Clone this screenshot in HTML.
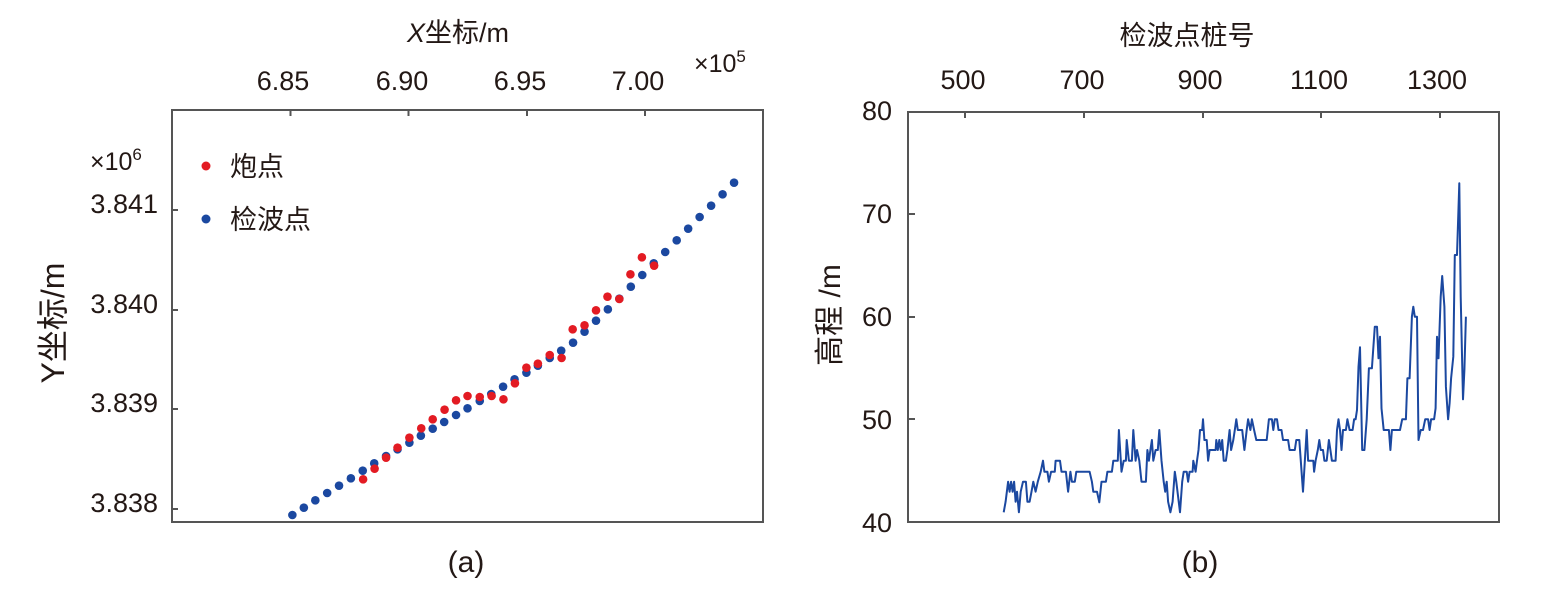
<!DOCTYPE html>
<html><head><meta charset="utf-8"><style>
html,body{margin:0;padding:0;background:#fff;}
svg{display:block;font-family:"Liberation Sans","Noto Sans CJK SC",sans-serif;}
</style></head><body>
<svg id="s" width="1546" height="594" viewBox="0 0 1546 594" xmlns="http://www.w3.org/2000/svg">
<g fill="#231815" font-size="27">
<!-- panel a -->
<rect x="172" y="110" width="591" height="412" fill="none" stroke="#555" stroke-width="2"/>
<g stroke="#555" stroke-width="2">
<line x1="290.5" y1="110" x2="290.5" y2="116"/><line x1="408.5" y1="110" x2="408.5" y2="116"/>
<line x1="527" y1="110" x2="527" y2="116"/><line x1="645" y1="110" x2="645" y2="116"/>
<line x1="172" y1="210" x2="178" y2="210"/><line x1="172" y1="310" x2="178" y2="310"/>
<line x1="172" y1="409" x2="178" y2="409"/><line x1="172" y1="509" x2="178" y2="509"/>
</g>
<g text-anchor="middle">
<text x="283" y="90">6.85</text><text x="402" y="90">6.90</text>
<text x="520" y="90">6.95</text><text x="638" y="90">7.00</text>
</g>
<text x="694" y="72" font-size="25">×10<tspan font-size="17" dy="-10">5</tspan></text>
<text x="90" y="170" font-size="25">×10<tspan font-size="17" dy="-10">6</tspan></text>
<g text-anchor="end">
<text x="158" y="213">3.841</text><text x="158" y="313">3.840</text>
<text x="158" y="412">3.839</text><text x="158" y="512">3.838</text>
</g>
<text x="458" y="42" text-anchor="middle"><tspan font-style="italic">X</tspan>坐标/m</text>
<text transform="translate(64,323) rotate(-90)" text-anchor="middle" font-size="32">Y坐标/m</text>
<text x="466" y="572" text-anchor="middle" font-size="30">(a)</text>
<circle cx="206" cy="166" r="4.5" fill="#e31b23"/><text x="230" y="176">炮点</text>
<circle cx="206" cy="219" r="4.5" fill="#1b48a0"/><text x="230" y="229">检波点</text>
<g id="pts"></g>
<!-- panel b -->
<rect x="908" y="112" width="591" height="410" fill="none" stroke="#555" stroke-width="2"/>
<g stroke="#555" stroke-width="2">
<line x1="965" y1="112" x2="965" y2="118"/><line x1="1084" y1="112" x2="1084" y2="118"/>
<line x1="1203" y1="112" x2="1203" y2="118"/><line x1="1321" y1="112" x2="1321" y2="118"/>
<line x1="1440" y1="112" x2="1440" y2="118"/>
<line x1="908" y1="214" x2="915" y2="214"/><line x1="908" y1="317" x2="915" y2="317"/>
<line x1="908" y1="419" x2="915" y2="419"/>
</g>
<g text-anchor="middle">
<text x="963" y="89">500</text><text x="1082" y="89">700</text><text x="1200" y="89">900</text>
<text x="1319" y="89">1100</text><text x="1437" y="89">1300</text>
</g>
<g text-anchor="end">
<text x="892" y="120">80</text><text x="892" y="223">70</text><text x="892" y="326">60</text>
<text x="892" y="429">50</text><text x="892" y="532">40</text>
</g>
<text x="1187" y="45" text-anchor="middle">检波点桩号</text>
<text transform="translate(840,315) rotate(-90)" text-anchor="middle" font-size="30">高程 /m</text>
<text x="1200" y="572" text-anchor="middle" font-size="30">(b)</text>
<polyline id="ln" fill="none" stroke="#1b48a0" stroke-width="2" stroke-linejoin="round"/>
</g>
</svg>
<script>
var blue=[320,1245,350,1223,380,1201,411,1179,442,1157,473,1135,504,1112,534,1090,565,1068,595,1048,626,1028,656,1007,687,986,717,966,748,945,778,925,810,903,840,882,871,860,901,838,932,818,962,797,993,774,1023,752,1054,728,1084,695,1114,662,1145,628,1175,596,1205,560,1235,525,1265,490,1295,456,1325,421,1355,386,1385,351,1415,317,1445,283,1475,248];
var red=[505,1138,535,1106,565,1073,595,1043,626,1013,657,985,687,958,718,929,748,901,778,888,810,891,841,888,872,898,902,850,932,803,962,791,993,765,1024,774,1053,688,1084,676,1114,631,1144,590,1175,597,1204,523,1234,472,1266,497];
var g=document.getElementById('pts'),ns="http://www.w3.org/2000/svg";
function add(a,c){for(var i=0;i<a.length;i+=2){var e=document.createElementNS(ns,'circle');e.setAttribute('cx',170+a[i]/2.615);e.setAttribute('cy',100+a[i+1]/3);e.setAttribute('r',4.3);e.setAttribute('fill',c);g.appendChild(e);}}
add(blue,'#1b48a0');add(red,'#e31b23');
var L=[280,1027,285,995,292,935,296,965,300,935,304,965,308,935,312,995,316,965,321,1027,326,965,332,935,340,935,344,995,350,995,355,965,360,935,366,965,372,935,380,905,386,872,390,905,398,905,402,935,408,905,418,905,420,872,432,872,436,905,448,905,454,965,460,905,464,935,472,935,476,905,512,905,518,935,522,965,532,965,538,997,544,935,556,935,560,905,572,905,576,872,588,872,591,780,598,905,604,872,610,872,612,810,618,872,626,872,630,780,636,872,640,840,646,872,652,935,664,935,668,840,672,872,676,840,680,810,684,872,690,840,696,840,700,780,706,872,712,935,716,965,720,935,724,995,730,1027,736,995,742,905,746,935,756,1027,762,935,766,905,774,905,778,935,782,905,790,905,792,872,798,905,802,872,806,840,810,780,816,780,818,748,822,810,828,810,832,872,836,840,852,840,854,810,858,840,862,810,866,840,870,810,874,872,880,872,884,840,890,780,894,840,900,810,904,780,908,748,912,780,924,780,930,840,936,780,940,748,946,780,950,748,956,780,962,810,990,810,996,748,1004,748,1008,780,1012,748,1018,748,1022,780,1030,780,1034,810,1048,810,1052,840,1066,840,1070,810,1078,810,1088,965,1098,780,1102,872,1116,872,1118,905,1122,872,1128,840,1132,810,1136,840,1142,840,1146,872,1152,872,1158,810,1162,840,1166,872,1176,872,1180,780,1184,748,1188,780,1192,840,1196,780,1204,780,1208,748,1214,780,1222,780,1226,748,1230,748,1234,720,1238,590,1242,532,1248,840,1254,840,1260,748,1266,595,1274,595,1282,470,1288,470,1292,565,1296,500,1300,715,1306,780,1320,780,1324,840,1328,780,1350,780,1356,748,1366,748,1370,625,1376,625,1382,440,1386,410,1390,440,1396,440,1400,810,1406,780,1412,780,1418,748,1426,748,1430,780,1434,748,1442,748,1446,715,1450,500,1454,565,1460,380,1464,318,1470,410,1474,650,1480,748,1484,700,1488,625,1494,560,1498,255,1504,255,1510,40,1514,380,1520,688,1524,600,1528,440];
var p=[];for(var i=0;i<L.length;i+=2)p.push((900+L[i]/2.7).toFixed(1)+','+(170+L[i+1]/3).toFixed(1));
document.getElementById('ln').setAttribute('points',p.join(' '));
</script>
</body></html>
